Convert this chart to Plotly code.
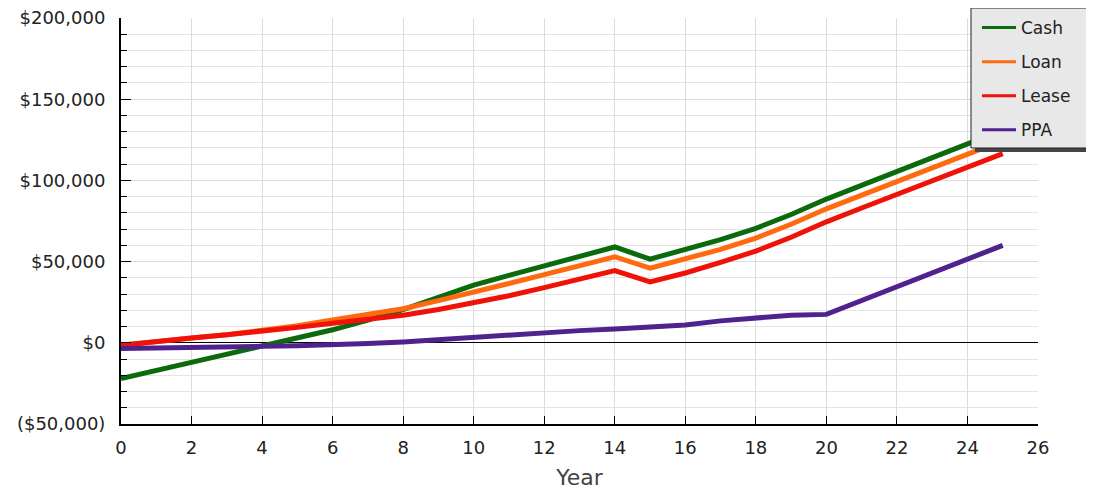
import plotly.graph_objects as go

years = list(range(0, 26))
cash = [-22000, -17000, -12500, -7500, -2500, 2500, 8000, 14000, 20500, 28000,
        35500, 41500, 47500, 53500, 59000, 51500, 57500, 63500, 70500, 79000,
        88500, 97000, 106000, 114500, 122500, 131000]
loan = [-1500, 1000, 3000, 5000, 7500, 10500, 14000, 17500, 21000, 26000,
        31000, 36500, 42000, 47500, 53000, 46000, 51500, 57500, 64500, 73000,
        82500, 91000, 99500, 108000, 116000, 124500]
lease = [-1500, 1000, 3000, 5000, 7000, 9500, 12000, 14500, 17000, 20500,
         24500, 29000, 34000, 39000, 44500, 37500, 43000, 49500, 56500, 65000,
         74500, 83000, 91500, 100000, 108000, 116500]
ppa = [-3500, -3000, -2800, -2500, -2200, -1800, -1300, -500, 500, 2000,
       3500, 5000, 6300, 7500, 8500, 9500, 11000, 13500, 15500, 17000,
       17500, 26000, 34500, 43000, 51500, 60000]

series_names = ["Cash", "Loan", "Lease", "PPA"]
series_values = [cash, loan, lease, ppa]
series_colors = ["#0b6a0b", "#ff6a10", "#f01208", "#4f2290"]

y_tickvals = [-50000, 0, 50000, 100000, 150000, 200000]
y_ticktext = ["($50,000)", "$0", "$50,000", "$100,000", "$150,000", "$200,000"]
x_tickvals = list(range(0, 27, 2))

FONT = "DejaVu Sans"
OFF = 8  # page body margin
W, H = 1086, 482
ML, MT = 121 - OFF, 18 - OFF
PW, PH = 917, 406
MR = W - ML - PW
MB = H - MT - PH

fig = go.Figure()
for name, vals, col in zip(series_names, series_values, series_colors):
    fig.add_trace(go.Scatter(x=years, y=vals, mode="lines", name=name,
                             line=dict(color=col, width=5),
                             showlegend=False, hoverinfo="skip"))
for name, col in zip(series_names, series_colors):
    fig.add_trace(go.Scatter(x=[None], y=[None], mode="lines", name=name,
                             line=dict(color=col, width=3),
                             legendgroup=name, showlegend=True))

def px_x(p):
    return (p - OFF - ML) / PW
def px_y(p):
    return (MT + PH - (p - OFF)) / PH

# legend drop shadow and box
fig.add_shape(type="rect", xref="paper", yref="paper",
              x0=px_x(975), x1=px_x(1100), y0=px_y(152), y1=px_y(12),
              fillcolor="#444444", line=dict(width=0), layer="above")
fig.add_shape(type="rect", xref="paper", yref="paper",
              x0=px_x(971), x1=px_x(1096), y0=px_y(148), y1=px_y(8),
              fillcolor="#e8e8e8", line=dict(color="#222222", width=1),
              layer="above")

fig.update_layout(
    width=W, height=H,
    margin=dict(l=ML, r=MR, t=MT, b=MB, autoexpand=False),
    paper_bgcolor="white", plot_bgcolor="white",
    font=dict(family=FONT, color="#222222", size=18),
    legend=dict(x=px_x(977), y=px_y(10), xanchor="left", yanchor="top",
                bgcolor="rgba(0,0,0,0)", borderwidth=0,
                font=dict(family=FONT, size=17, color="#222222"),
                tracegroupgap=9, itemwidth=34),
    xaxis=dict(range=[0, 26], tickvals=x_tickvals, ticks="inside", ticklen=8,
               tickcolor="black", showline=True, linecolor="black", linewidth=2,
               showgrid=True, gridcolor="#dcdcdc", gridwidth=1, zeroline=False,
               ticklabelstandoff=6, ticklabeloverflow="allow",
               tickfont=dict(size=18, family=FONT, color="#222222"),
               title=dict(text="Year", font=dict(size=22, family=FONT, color="#444444"),
                          standoff=19)),
    yaxis=dict(range=[-50000, 200000], tickvals=y_tickvals, ticktext=y_ticktext,
               ticks="inside", ticklen=10, tickcolor="black",
               showline=True, linecolor="black", linewidth=2,
               showgrid=True, gridcolor="#dcdcdc", gridwidth=1,
               zeroline=True, zerolinecolor="black", zerolinewidth=1,
               ticklabelstandoff=10, ticklabeloverflow="allow",
               tickfont=dict(size=18, family=FONT, color="#222222"),
               minor=dict(dtick=10000, tick0=0, ticks="inside", ticklen=6,
                          tickcolor="black", showgrid=True, gridcolor="#e4e4e4",
                          gridwidth=1)),
)

fig.write_html("out.html")
